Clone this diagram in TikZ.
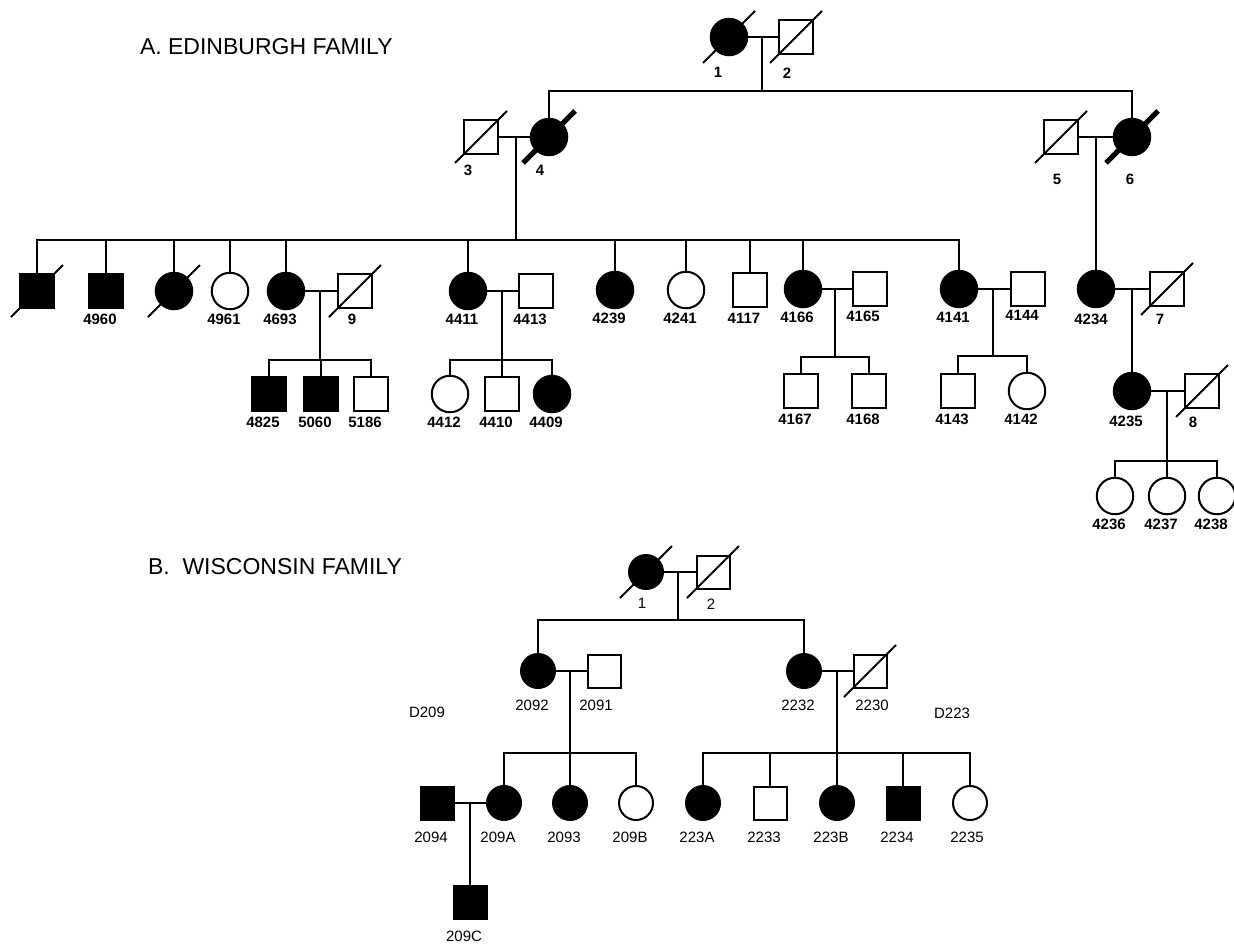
\documentclass[tikz,border=0pt]{standalone}
\usepackage{fontspec}
\setmainfont{Liberation Sans}

\newcommand{\labdy}{28}
\newcommand{\indiv}[5][-6,\labdy]{%
\node[#2] (#3) at (#4) {};
\node[idlabel] (#3l) at ([shift={(#1)}]#3.center) {#5};}
\newcommand{\dead}[2][deadslash]{%
\draw[#1] ([shift={(-26,26)}]#2.center) -- ([shift={(26,-26)}]#2.center);}

\tikzset{
fem/.style={circle, draw, minimum size=36.5pt, inner sep=0pt},
affem/.style={fem, fill=black},
male/.style={rectangle, draw, minimum size=34pt, inner sep=0pt},
afmale/.style={male, fill=black},
idlabel/.style={font=\fontsize{15}{15}\selectfont\bfseries, inner sep=0pt},
deadslash/.style={line width=2pt},
heavyslash/.style={line width=5pt},
title/.style={font=\fontsize{23}{23}\selectfont, anchor=west, inner sep=0pt}
}

\begin{document}
\begin{tikzpicture}[x=1pt, y=-1pt, line width=2pt]
\useasboundingbox (0,0) rectangle (1234,943);

\node[title] (titleA) at (139,47) {A. EDINBURGH FAMILY};
\node[title] (titleB) at (147,567) {B.\ \ WISCONSIN FAMILY};

% A: generations I and II
\indiv[-11,35]{affem}{e1}{729,37}{1}
\indiv[-9,36]{male}{e2}{796,37}{2}
\indiv[-13,33]{male}{e3}{481,137}{3}
\indiv[-9,33]{affem}{e4}{549,137}{4}
\indiv[-4,42]{male}{e5}{1061,137}{5}
\indiv[-2,42]{affem}{e6}{1132,137}{6}
\dead{e1} \dead{e2} \dead{e3} \dead[heavyslash]{e4} \dead{e5} \dead[heavyslash]{e6}

\path (762,37) coordinate (m12) (762,91) coordinate (s12)
(516,137) coordinate (m34) (516,240) coordinate (s34)
(1096,137) coordinate (m56);

\draw (e1) -- (e2);
\draw (m12) -- (s12);
\draw (e4.north) |- (s12) -| (e6.north);
\draw (e3) -- (e4);
\draw (m34) -- (s34);
\draw (e5) -- (e6);

% A: generation III
\node[afmale] (ea1) at (37,291) {};
\indiv{afmale}{p4960}{106,291}{4960}
\node[affem] (ea3) at (174,291) {};
\indiv{fem}{p4961}{230,291}{4961}
\indiv{affem}{p4693}{286,291}{4693}
\indiv[-3,28]{male}{e9}{355,291}{9}
\indiv{affem}{p4411}{468,291}{4411}
\indiv{male}{p4413}{536,291}{4413}
\indiv{affem}{p4239}{615,290}{4239}
\indiv{fem}{p4241}{686,290}{4241}
\indiv{male}{p4117}{750,290}{4117}
\indiv{affem}{p4166}{803,289}{4166}
\indiv[-7,27]{male}{p4165}{870,289}{4165}
\indiv{affem}{p4141}{959,289}{4141}
\indiv[-6,26]{male}{p4144}{1028,289}{4144}
\indiv[-5,30]{affem}{p4234}{1096,289}{4234}
\indiv[-7,30]{male}{e7}{1167,289}{7}
\dead{ea1} \dead{ea3} \dead{e9} \dead{e7}

\draw (ea1.north) |- (s34) -| (p4141.north);
\foreach \c in {p4960, ea3, p4961, p4693, p4411, p4239, p4241, p4117, p4166}
\draw (\c.north) -- (\c.north |- s34);
\draw (m56) -- (p4234.north);

% A: generations IV and V
\path (320,291) coordinate (m49) (320,360) coordinate (s49)
(502,291) coordinate (m4411) (502,360) coordinate (s4411)
(835,289) coordinate (m4166) (835,357) coordinate (s4166)
(993,289) coordinate (m4141) (993,356) coordinate (s4141)
(1132,289) coordinate (m47)
(1167,391) coordinate (m48) (1167,461) coordinate (s48);

\indiv{afmale}{p4825}{269,394}{4825}
\indiv{afmale}{p5060}{321,394}{5060}
\indiv{male}{p5186}{371,394}{5186}
\indiv{fem}{p4412}{450,394}{4412}
\indiv{male}{p4410}{502,394}{4410}
\indiv{affem}{p4409}{552,394}{4409}
\indiv{male}{p4167}{801,391}{4167}
\indiv{male}{p4168}{869,391}{4168}
\indiv{male}{p4143}{958,391}{4143}
\indiv{fem}{p4142}{1027,391}{4142}
\indiv[-6,30]{affem}{p4235}{1132,391}{4235}
\indiv[-9,31]{male}{e8}{1202,391}{8}
\dead{e8}
\indiv{fem}{p4236}{1115,496}{4236}
\indiv{fem}{p4237}{1167,496}{4237}
\indiv{fem}{p4238}{1217,496}{4238}

\draw (p4693) -- (e9);
\draw (m49) -- (s49);
\draw (p4825.north) |- (s49) -| (p5186.north);
\draw (p5060.north) -- (p5060.north |- s49);
\draw (p4411) -- (p4413);
\draw (m4411) -- (s4411);
\draw (p4412.north) |- (s4411) -| (p4409.north);
\draw (p4410.north) -- (s4411);
\draw (p4166) -- (p4165);
\draw (m4166) -- (s4166);
\draw (p4167.north) |- (s4166) -| (p4168.north);
\draw (p4141) -- (p4144);
\draw (m4141) -- (s4141);
\draw (p4143.north) |- (s4141) -| (p4142.north);
\draw (p4234) -- (e7);
\draw (m47) -- (p4235.north);
\draw (p4235) -- (e8);
\draw (m48) -- (s48);
\draw (p4236.north) |- (s48) -| (p4238.north);
\draw (p4237.north) -- (s48);

% B: Wisconsin
\begin{scope}[fem/.append style={minimum size=34pt},
male/.append style={minimum size=33pt},
idlabel/.append style={font=\fontsize{15}{15}\selectfont}]
\renewcommand{\labdy}{34}
\indiv[-4,31]{affem}{w1}{646,572}{1}
\indiv[-2,32]{male}{w2}{713,572}{2}
\dead{w1} \dead{w2}
\indiv{affem}{p2092}{538,671}{2092}
\indiv[-8,34]{male}{p2091}{604,671}{2091}
\indiv{affem}{p2232}{804,671}{2232}
\indiv[2,34]{male}{p2230}{870,671}{2230}
\dead{p2230}

\indiv{afmale}{p2094}{437,803}{2094}
\indiv{affem}{p209A}{504,803}{209A}
\indiv{affem}{p2093}{570,803}{2093}
\indiv{fem}{p209B}{636,803}{209B}
\indiv{affem}{p223A}{703,803}{223A}
\indiv{male}{p2233}{770,803}{2233}
\indiv{affem}{p223B}{837,803}{223B}
\indiv{afmale}{p2234}{903,803}{2234}
\indiv[-3,34]{fem}{p2235}{970,803}{2235}
\indiv{afmale}{p209C}{470,902}{209C}

\node[idlabel] (d209) at (427,712) {D209};
\node[idlabel] (d223) at (952,713) {D223};

\path (678,572) coordinate (mw12) (678,620) coordinate (sw12)
(570,671) coordinate (m2092) (570,753) coordinate (s2092)
(837,671) coordinate (m2232) (837,753) coordinate (s2232)
(470,803) coordinate (m2094);

\draw (w1) -- (w2);
\draw (mw12) -- (sw12);
\draw (p2092.north) |- (sw12) -| (p2232.north);
\draw (p2092) -- (p2091);
\draw (m2092) -- (s2092);
\draw (p209A.north) |- (s2092) -| (p209B.north);
\draw (p2093.north) -- (s2092);
\draw (p2094) -- (p209A);
\draw (m2094) -- (p209C.north);
\draw (p2232) -- (p2230);
\draw (m2232) -- (s2232);
\draw (p223A.north) |- (s2232) -| (p2235.north);
\foreach \c in {p2233, p223B, p2234}
\draw (\c.north) -- (\c.north |- s2232);
\end{scope}

\end{tikzpicture}
\end{document}
